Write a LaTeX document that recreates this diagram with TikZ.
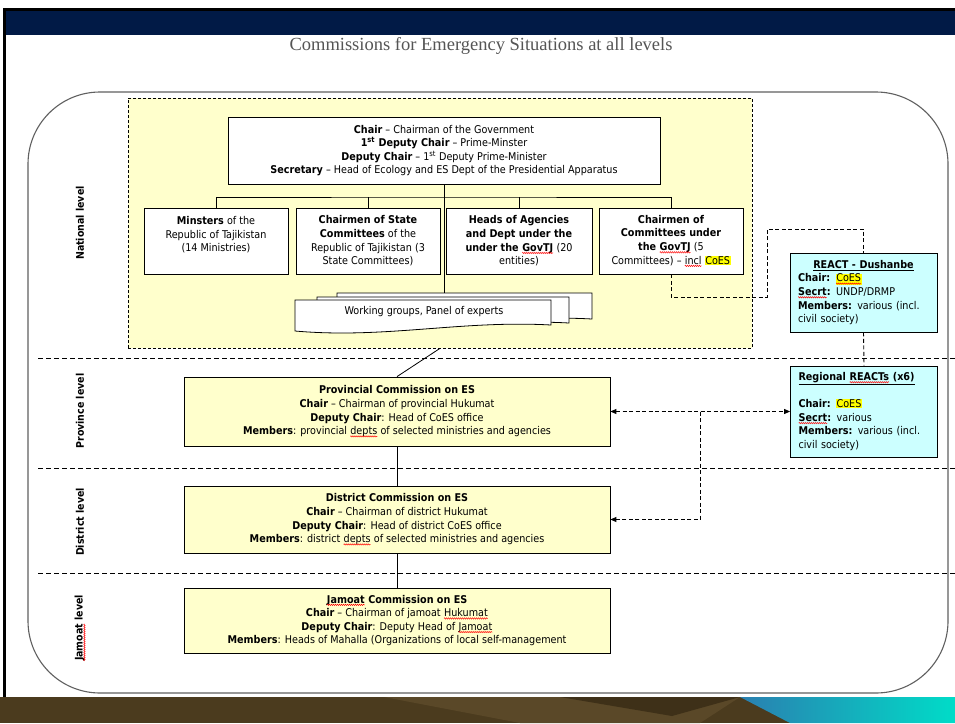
\documentclass[tikz,border=0pt]{standalone}
\usepackage{fontspec}
\setmainfont{DejaVu Sans Condensed}
\newfontfamily\titlefont{Liberation Serif}
\usetikzlibrary{arrows.meta,calc,decorations.pathmorphing}
\definecolor{navybar}{HTML}{011A46}
\definecolor{panelfill}{HTML}{FFFFCC}
\definecolor{cyanfill}{HTML}{CCFFFF}
\definecolor{hly}{HTML}{FFFF00}
\definecolor{brownband}{HTML}{4B3B1E}
\definecolor{brownlight}{HTML}{5A4828}
\definecolor{browndark}{HTML}{3E3018}
\definecolor{framegray}{HTML}{606060}
\definecolor{titlegray}{HTML}{555555}
\definecolor{tealA}{HTML}{2A7FB0}
\definecolor{tealB}{HTML}{00DCC8}
\newcommand\hlw[1]{{\setlength{\fboxsep}{0.4pt}\colorbox{hly}{#1}}}
\newcommand\sqw[1]{\begin{tikzpicture}[baseline=(sqwn.base),x=1pt,y=1pt]
  \node[inner sep=0pt, outer sep=0pt, draw=none, fill=none, minimum size=0pt, rotate=0] (sqwn) {#1};
  \draw[red, line width=0.45pt, decorate, decoration={zigzag, amplitude=0.7pt, segment length=2pt}]
    ([yshift=-1.8pt]sqwn.base west) -- ([yshift=-1.8pt]sqwn.base east);
  \end{tikzpicture}}
\newcommand\docshape[4]{%
  \filldraw[fill=white, line width=0.8pt] (#1,#2) -- (#3,#2) -- (#3,#4-6)
    .. controls (#3-90,#4-11) and (#1+90,#4+8) .. (#1,#4) -- cycle;}
\begin{document}
\begin{tikzpicture}[x=1pt,y=-1pt,
  txt/.style={font=\fontsize{10.7}{13.6}\selectfont},
  wbox/.style={txt, draw, fill=white, line width=0.8pt, align=center, inner sep=0pt},
  ybox/.style={wbox, fill=panelfill},
  cbox/.style={txt, draw, fill=cyanfill, line width=0.8pt, align=left, inner ysep=0pt, inner xsep=8pt, text width=131pt},
  conn/.style={line width=0.8pt},
  dconn/.style={line width=0.9pt, dash pattern=on 4pt off 2.5pt},
  divider/.style={line width=0.8pt, dash pattern=on 5pt off 3pt},
  lvl/.style={rotate=90, font=\fontsize{10.5}{12}\selectfont\bfseries},
  tip/.style={-{Triangle[length=6pt,width=5pt]}},
  tips/.style={{Triangle[length=6pt,width=5pt]}-{Triangle[length=6pt,width=5pt]}}
]
\useasboundingbox (0,0) rectangle (955,723);
\fill[white] (0,0) rectangle (955,723);
% slide frame
\fill[black] (3,8) rectangle (955,11);
\fill[navybar] (6,11) rectangle (955,35);
\fill[black] (3,8) rectangle (6,697);
% bottom band
\fill[brownband] (0,697) rectangle (955,723);
\fill[brownlight] (384,697) -- (740,697) -- (700,723) -- (520,723) -- cycle;
\fill[browndark] (560,697) -- (740,697) -- (672,716) -- cycle;
\shade[left color=tealA, right color=tealB] (740,697) -- (955,697) -- (955,723) -- (790,723) -- cycle;
% title
\node[font=\titlefont\fontsize{18.5}{20}\selectfont, text=titlegray] (title) at (481,46) {Commissions for Emergency Situations at all levels};
% outer rounded frame
\draw[framegray, line width=1.1pt, rounded corners=72pt] (28,92) rectangle (948,693);
% national panel
\node[draw, line width=0.7pt, dash pattern=on 3pt off 2pt, fill=panelfill, minimum width=624pt, minimum height=250pt, inner sep=0pt] (panel) at (440,223) {};
% level dividers
\draw[divider] (38,358) -- (955,358);
\draw[divider] (38,468) -- (955,468);
\draw[divider] (38,573) -- (955,573);
% level labels
\node[lvl] (lnat) at (80,223) {National level};
\node[lvl] (lprov) at (80,411) {Province level};
\node[lvl] (ldist) at (80,522) {District level};
\node[lvl] (ljam) at (80,628) {\sqw{Jamoat} level};
% coordinates
\coordinate (bar) at (444,197);
\coordinate (wgtop) at (444,293);
\coordinate (k1) at (767,297);
\coordinate (k2) at (767,229);
% chair
\node[wbox, minimum width=432pt, minimum height=67pt] (chair) at (444,150.5) {%
\textbf{Chair} -- Chairman of the Government\\
\textbf{1\textsuperscript{st} Deputy Chair} -- Prime-Minster\\
\textbf{Deputy Chair} -- 1\textsuperscript{st} Deputy Prime-Minister\\
\textbf{Secretary} -- Head of Ecology and ES Dept of the Presidential Apparatus};
% four boxes
\node[wbox, minimum width=144pt, minimum height=66pt] (b1) at (216,241) {%
\textbf{Minsters} of the\\Republic of Tajikistan\\(14 Ministries)\\\mbox{}};
\node[wbox, minimum width=144pt, minimum height=66pt] (b2) at (368,241) {%
\textbf{Chairmen of State}\\\textbf{Committees} of the\\Republic of Tajikistan (3\\State Committees)};
\node[wbox, minimum width=146pt, minimum height=66pt] (b3) at (519,241) {%
\textbf{Heads of Agencies}\\\textbf{and Dept under the}\\\textbf{under the \sqw{GovTJ}} (20\\entities)};
\node[wbox, minimum width=144pt, minimum height=66pt] (b4) at (671,241) {%
\textbf{Chairmen of}\\\textbf{Committees under}\\\textbf{the \sqw{GovTJ}} (5\\Committees) -- \sqw{incl} \hlw{CoES}};
% connectors in panel
\draw[conn] (chair.south) -- (wgtop);
\draw[conn] (b1.north) |- (bar) -| (b4.north);
\draw[conn] (b2.north) -- (b2.north |- bar);
\draw[conn] (b3.north) -- (b3.north |- bar);
% working groups stack
\docshape{337}{293}{592}{325}
\docshape{317}{297}{569}{329}
\docshape{295}{300}{551}{331}
\node[txt] (wg) at (424,312) {Working groups, Panel of experts};
% REACT boxes
\node[cbox, minimum height=79pt] (react) at (863.5,292.5) {%
\makebox[131pt]{\underline{\textbf{REACT - Dushanbe}}}\\
\textbf{Chair:} \hlw{\sqw{CoES}}\\
\textbf{\sqw{Secrt}:} UNDP/DRMP\\
\textbf{Members:} various (incl.\\
civil society)};
\node[cbox, minimum height=91pt] (reg) at (864,411.5) {%
\underline{\textbf{Regional \sqw{REACTs} (x6)}}\\
\mbox{}\\
\textbf{Chair:} \hlw{CoES}\\
\textbf{\sqw{Secrt}:} various\\
\textbf{Members:} various (incl.\\
civil society)};
% commissions
\node[ybox, minimum width=426pt, minimum height=69pt] (prov) at (397,411.5) {%
\textbf{Provincial Commission on ES}\\
\textbf{Chair} -- Chairman of provincial Hukumat\\
\textbf{Deputy Chair}: Head of CoES office\\
\textbf{Members}: provincial \sqw{depts} of selected ministries and agencies};
\node[ybox, minimum width=426pt, minimum height=67pt] (dist) at (397,519.5) {%
\textbf{District Commission on ES}\\
\textbf{Chair} -- Chairman of district Hukumat\\
\textbf{Deputy Chair}: Head of district CoES office\\
\textbf{Members}: district \sqw{depts} of selected ministries and agencies};
\node[ybox, minimum width=426pt, minimum height=65pt] (jam) at (397,620.5) {%
\textbf{\sqw{Jamoat} Commission on ES}\\
\textbf{Chair} -- Chairman of jamoat \sqw{Hukumat}\\
\textbf{Deputy Chair}: Deputy Head of \sqw{Jamoat}\\
\textbf{Members}: Heads of Mahalla (Organizations of local self-management};
% connectors between levels
\draw[conn] (panel.south) -- (prov.north);
\draw[conn] (prov.south) -- (dist.north);
\draw[conn] (dist.south) -- (jam.north);
\draw[dconn, tips] (prov.east) -- (reg.west);
\draw[dconn, tip] ($(prov.east)!0.5!(reg.west)$) |- (dist.east);
\draw[dconn] (react.south) -- (reg.north);
\draw[dconn] (b4.south) |- (k1) -- (k2) -| (react.north);
\end{tikzpicture}
\end{document}
